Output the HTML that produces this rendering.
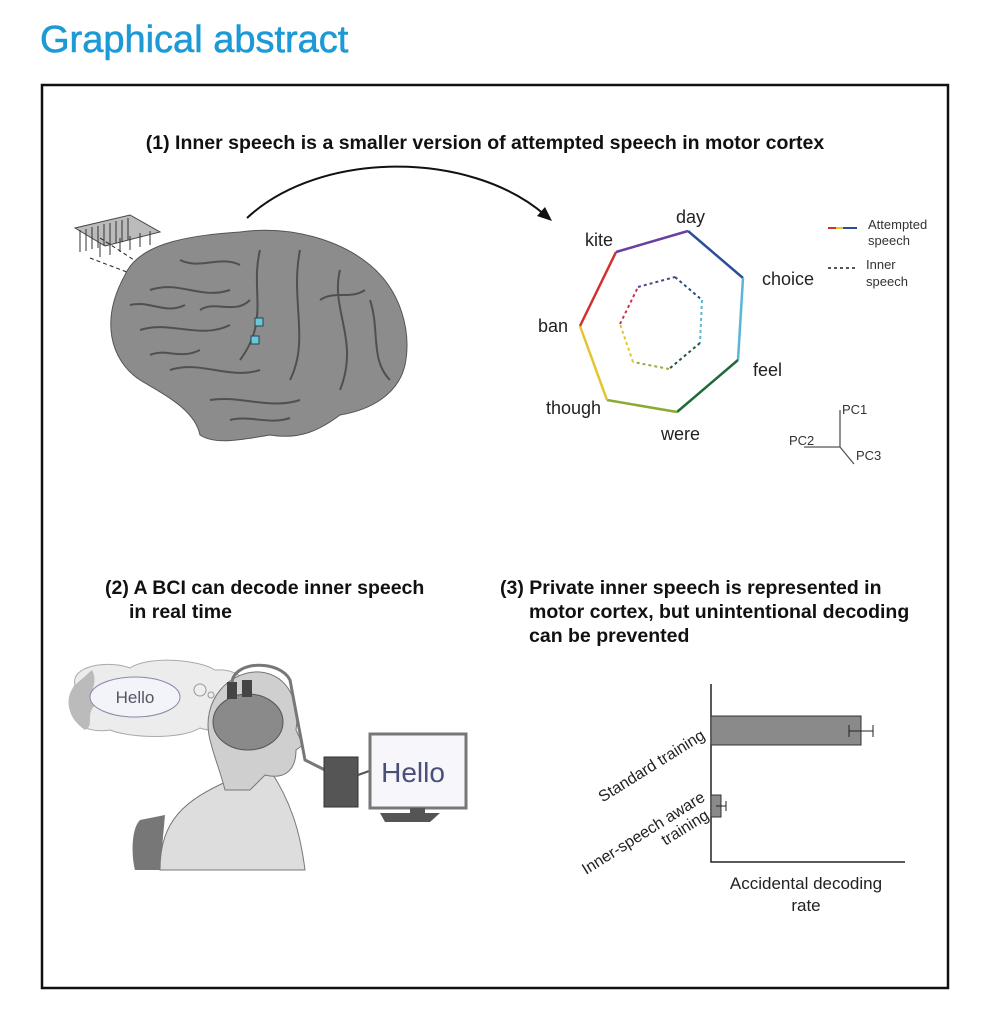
<!DOCTYPE html>
<html><head><meta charset="utf-8"><style>
body{margin:0;background:#fff;width:988px;height:1024px;overflow:hidden;font-family:"Liberation Sans",Arial,sans-serif}
</style></head><body>
<svg width="988" height="1024" viewBox="0 0 988 1024" xmlns="http://www.w3.org/2000/svg" font-family="Liberation Sans, Arial, sans-serif">
<text x="40" y="52" font-size="38" fill="#1d9ad6" stroke="#1d9ad6" stroke-width="0.6">Graphical abstract</text>
<rect x="42" y="85" width="906" height="903" fill="none" stroke="#111" stroke-width="2.5"/>
<text x="485" y="149" font-size="19.5" font-weight="bold" text-anchor="middle" fill="#111">(1) Inner speech is a smaller version of attempted speech in motor cortex</text>
<!-- electrode array -->
<g stroke="#444" stroke-width="1">
<path d="M75 228 L130 215 L160 232 L105 246 Z" fill="#bbb"/>
<g stroke="#333">
<path d="M80 230v22M86 229v22M92 227v22M98 226v22M104 224v22M110 223v22M116 221v22M122 220v22M128 218v22M100 243v14M110 241v14M120 238v14M130 236v14M140 233v14M150 231v14"/>
</g>
</g>
<path d="M90 258 L258 322 M100 238 L258 340" stroke="#222" stroke-dasharray="4,3" fill="none"/>
<!-- brain -->
<path d="M125 275 C140 240 200 235 240 232 C290 225 340 240 370 265 C400 290 412 330 405 365 C398 395 370 410 340 415 C320 430 300 440 270 435 C240 440 215 445 200 435 C195 410 165 395 140 380 C110 360 100 320 125 275 Z" fill="#8c8c8c" stroke="#555"/>
<g stroke="#505050" stroke-width="2" fill="none">
<path d="M150 290 C180 280 200 300 230 290 M140 330 C170 320 200 340 230 325 M260 250 C250 290 270 320 240 360 M300 250 C290 300 310 340 290 380 M340 270 C330 310 360 340 340 390 M170 370 C200 360 230 380 260 370 M210 400 C240 395 270 410 300 400 M370 300 C380 330 370 360 390 380 M180 260 C200 270 220 255 240 265 M130 305 C150 300 165 315 185 305 M200 310 C215 300 235 315 250 300 M320 300 C335 290 350 300 365 290 M230 420 C250 415 270 425 290 418 M150 355 C165 348 180 360 200 350"/>
</g>
<rect x="255" y="318" width="8" height="8" fill="#6cc6d9" stroke="#245"/>
<rect x="251" y="336" width="8" height="8" fill="#6cc6d9" stroke="#245"/>
<!-- arrow -->
<path d="M247 218 C320 150 470 150 545 215" fill="none" stroke="#111" stroke-width="2"/>
<path d="M552 221 L537 216 L545 207 Z" fill="#111"/>
<!-- heptagon -->
<g stroke-width="2.5" fill="none">
<path d="M688 231 L743 278" stroke="#2c4e9a"/>
<path d="M743 278 L738 360" stroke="#5ab6d6"/>
<path d="M738 360 L677 412" stroke="#1f6a3a"/>
<path d="M677 412 L607 400" stroke="#8aaa30"/>
<path d="M607 400 L580 326" stroke="#e4c530"/>
<path d="M580 326 L616 252" stroke="#d23030"/>
<path d="M616 252 L688 231" stroke="#6a3fa0"/>
</g>
<g stroke-width="2" fill="none" stroke-dasharray="3,3">
<path d="M675 277 L702 300" stroke="#2c4e7a"/>
<path d="M702 300 L700 343" stroke="#5ab6d6"/>
<path d="M700 343 L669 369" stroke="#1f5a3a"/>
<path d="M669 369 L633 362" stroke="#9aaa40"/>
<path d="M633 362 L620 324" stroke="#e4c530"/>
<path d="M620 324 L638 287" stroke="#d03050"/>
<path d="M638 287 L675 277" stroke="#5a3f90"/>
</g>
<g font-size="18" fill="#222">
<text x="676" y="223">day</text>
<text x="585" y="246">kite</text>
<text x="762" y="285">choice</text>
<text x="538" y="332">ban</text>
<text x="753" y="376">feel</text>
<text x="546" y="414">though</text>
<text x="661" y="440">were</text>
</g>
<path d="M828 228h8" stroke="#d23030" stroke-width="2"/><path d="M836 228h7" stroke="#e4c530" stroke-width="2"/><path d="M843 228h14" stroke="#2c4e9a" stroke-width="2"/>
<path d="M828 268h29" stroke="#555" stroke-width="2" stroke-dasharray="3,3"/>
<g font-size="13" fill="#333">
<text x="868" y="229">Attempted</text><text x="868" y="245">speech</text>
<text x="866" y="269">Inner</text><text x="866" y="286">speech</text>
<text x="842" y="414">PC1</text><text x="789" y="445">PC2</text><text x="856" y="460">PC3</text>
</g>
<path d="M840 410V447H804M840 447L854 464" stroke="#555" fill="none" stroke-width="1.3"/>
<!-- section 2 -->
<g font-size="19.5" font-weight="bold" fill="#111">
<text x="105" y="594">(2) A BCI can decode inner speech</text>
<text x="129" y="618">in real time</text>
<text x="500" y="594">(3) Private inner speech is represented in</text>
<text x="529" y="618">motor cortex, but unintentional decoding</text>
<text x="529" y="642">can be prevented</text>
</g>
<!-- thought cloud -->
<path d="M75 685 C70 665 110 660 130 668 C150 655 200 660 215 670 C245 668 255 690 240 705 C250 725 220 735 200 728 C180 740 130 738 110 730 C80 735 60 715 75 685 Z" fill="#ececec" stroke="#aaa"/>
<path d="M92 670 C100 685 85 695 95 705 C85 715 95 725 85 730 C70 720 62 700 75 685 Z" fill="#bbb"/>
<ellipse cx="135" cy="697" rx="45" ry="20" fill="#f3f3fa" stroke="#8888aa"/>
<text x="135" y="703" font-size="17" fill="#556" text-anchor="middle">Hello</text>
<circle cx="200" cy="690" r="6" fill="#eee" stroke="#999"/><circle cx="211" cy="695" r="3" fill="#eee" stroke="#999"/>
<!-- person -->
<path d="M140 820 C130 830 132 860 135 870 L160 870 L165 815 Z" fill="#777"/>
<path d="M160 870 C160 820 185 800 230 780 L270 770 C290 800 300 830 305 870 Z" fill="#ddd" stroke="#777"/>
<path d="M210 740 C200 700 230 670 260 672 C290 675 300 705 296 730 L303 745 L296 750 C296 770 285 780 265 775 L250 790 L225 790 C220 770 215 760 210 740 Z" fill="#cfcfcf" stroke="#777"/>
<ellipse cx="248" cy="722" rx="35" ry="28" fill="#8a8a8a" stroke="#555"/>
<rect x="227" y="682" width="10" height="17" fill="#444"/><rect x="242" y="680" width="10" height="17" fill="#444"/>
<path d="M232 682 C235 660 280 660 290 680 L305 760 L325 770" stroke="#777" stroke-width="3" fill="none"/>
<!-- box -->
<rect x="324" y="757" width="34" height="50" fill="#555" stroke="#333"/>
<path d="M358 775 L372 770" stroke="#555" stroke-width="2"/>
<!-- monitor -->
<rect x="370" y="734" width="96" height="74" fill="#f6f6fb" stroke="#777" stroke-width="3"/>
<text x="413" y="782" font-size="28" fill="#4a4f7a" text-anchor="middle">Hello</text>
<path d="M410 808h15v5h15l-10 9h-45l-5-9h30z" fill="#555"/>
<!-- bar chart -->
<path d="M711 684V862H905" stroke="#222" fill="none" stroke-width="1.5"/>
<rect x="711" y="716" width="150" height="29" fill="#8a8a8a" stroke="#333"/>
<path d="M849 731H873M849 725v12M873 725v12" stroke="#222"/>
<rect x="711" y="795" width="10" height="22" fill="#8a8a8a" stroke="#333"/>
<path d="M716 806H726M726 801v10" stroke="#222"/>
<g font-size="16" fill="#222">
<text transform="translate(706,738) rotate(-32)" text-anchor="end">Standard training</text>
<text transform="translate(706,800) rotate(-32)" text-anchor="end">Inner-speech aware</text>
<text transform="translate(710,818) rotate(-32)" text-anchor="end">training</text>
<text x="806" y="889" font-size="17" text-anchor="middle">Accidental decoding</text>
<text x="806" y="911" font-size="17" text-anchor="middle">rate</text>
</g>
</svg>
</body></html>
